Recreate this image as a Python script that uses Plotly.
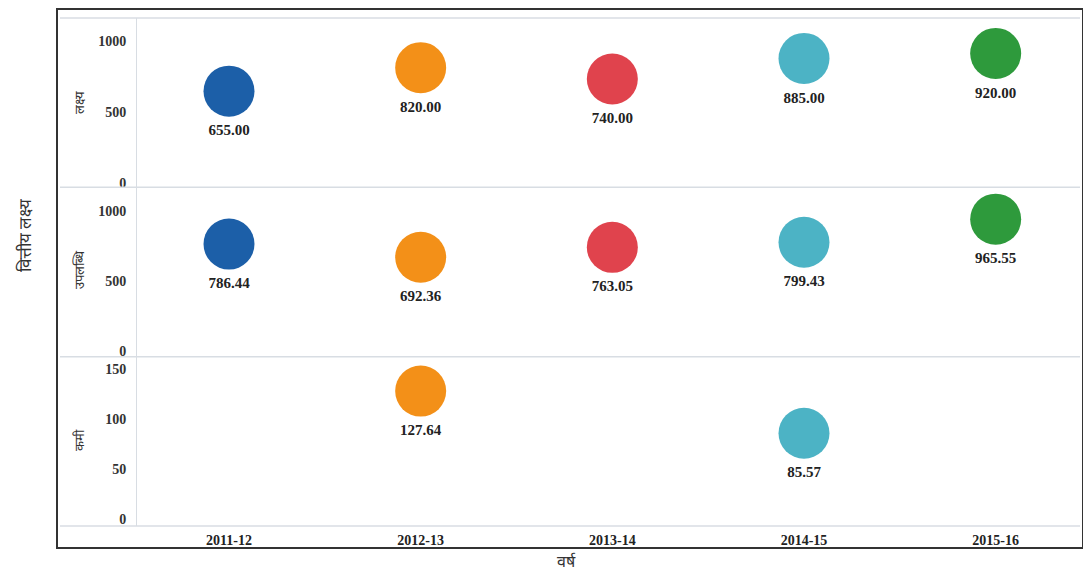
import plotly.graph_objects as go
from plotly.subplots import make_subplots

years = ["2011-12", "2012-13", "2013-14", "2014-15", "2015-16"]
target = [655.00, 820.00, 740.00, 885.00, 920.00]
achievement = [786.44, 692.36, 763.05, 799.43, 965.55]
shortfall = [None, 127.64, None, 85.57, None]
colors = ["#1c5fa8", "#f39018", "#e0434d", "#4cb3c5", "#2e9a3c"]
row_titles = ["लक्ष्य", "उपलब्धि", "कमी"]

fig = make_subplots(rows=3, cols=1, shared_xaxes=True, vertical_spacing=0)

serif = "Liberation Serif"
for i, vals in enumerate([target, achievement, shortfall]):
    idx = [k for k, v in enumerate(vals) if v is not None]
    ys = [vals[k] for k in idx]
    cs = [colors[k] for k in idx]
    fig.add_trace(go.Scatter(
        x=idx, y=ys, mode="markers+text",
        marker=dict(size=51, color=cs, line=dict(width=0)),
        text=[f"{v:.2f}" for v in ys], textposition="bottom center",
        textfont=dict(family=serif, size=15, color="#222", weight="bold"),
        showlegend=False, cliponaxis=False,
    ), row=i + 1, col=1)

ranges = [[-21, 1169], [-22, 1194], [-7, 162]]
tickvals = [[0, 500, 1000], [0, 500, 1000], [0, 50, 100, 150]]
shifts = [-1, -3, 0]
for i in range(3):
    fig.update_yaxes(range=ranges[i], tickvals=tickvals[i],
                     tickfont=dict(family=serif, size=14, color="#333", weight="bold"),
                     showgrid=False, zeroline=False, showline=True,
                     linecolor="#d8dde3", linewidth=1, ticks="",
                     ticklabelstandoff=7, ticklabelshift=shifts[i],
                     row=i + 1, col=1)
for i in range(3):
    fig.update_xaxes(range=[-0.48, 4.44], showgrid=False, zeroline=False,
                     showline=False, ticks="", row=i + 1, col=1)
fig.update_xaxes(tickvals=list(range(len(years))), ticktext=years,
                 tickfont=dict(family=serif, size=14, color="#222", weight="bold"),
                 ticklabelstandoff=4, row=3, col=1)

# page-pixel helpers (plot area: page x 137..1080, page y 18..526)
def px(xp):
    return (xp - 137) / 943.0


def py(yp):
    return (526 - yp) / 508.0


shapes = []
for yv in [0, 1 / 3, 2 / 3, 1]:
    shapes.append(dict(type="line", xref="paper", yref="paper",
                       x0=px(60), x1=1.0, y0=yv, y1=yv,
                       line=dict(color="#d8dde3", width=1.5)))
shapes.append(dict(type="rect", xref="paper", yref="paper",
                   x0=px(57), x1=px(1083), y0=py(548), y1=py(9),
                   line=dict(color="#333", width=2)))

annotations = []
row_centers = [103, 270, 440]
for t, yc in zip(row_titles, row_centers):
    annotations.append(dict(text=t, xref="paper", yref="paper",
                            x=px(79), y=py(yc), textangle=-90,
                            xanchor="center", yanchor="middle",
                            showarrow=False, font=dict(size=13, color="#333")))
annotations.append(dict(text="वित्तीय लक्ष्य", xref="paper", yref="paper",
                        x=px(24), y=py(235), textangle=-90, showarrow=False,
                        xanchor="center", yanchor="middle",
                        font=dict(size=17, color="#333")))
annotations.append(dict(text="वर्ष", xref="paper", yref="paper",
                        x=px(566), y=py(561), showarrow=False,
                        xanchor="center", yanchor="middle",
                        font=dict(size=16, color="#333")))

fig.update_layout(width=1075, height=564,
                  margin=dict(l=129, r=3, t=10, b=46),
                  paper_bgcolor="white", plot_bgcolor="white",
                  shapes=shapes, annotations=annotations)

fig.write_html("out.html")
